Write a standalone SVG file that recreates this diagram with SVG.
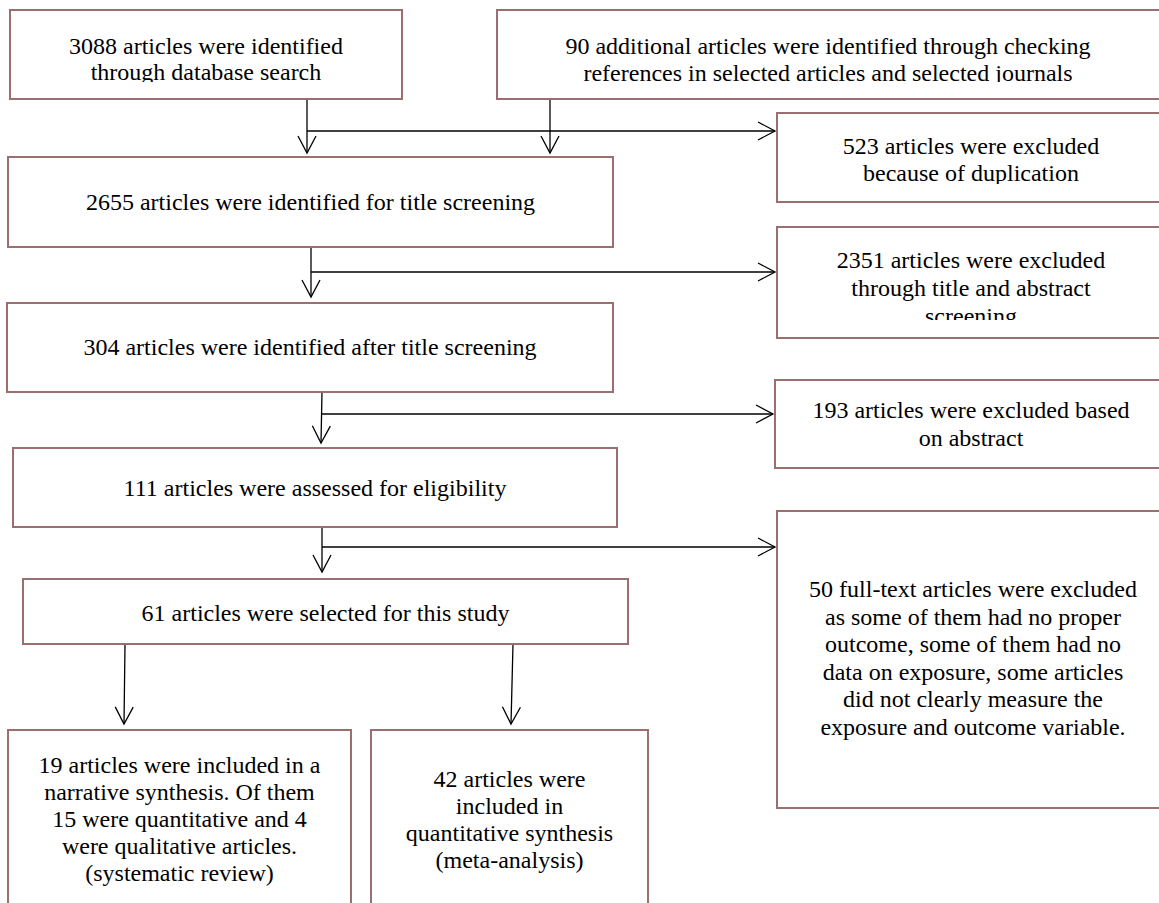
<svg xmlns="http://www.w3.org/2000/svg" width="1159" height="903" viewBox="0 0 1159 903">
<style>
.box{fill:#fff;stroke:#9b6f6f;stroke-width:2}
.t{font-family:"Liberation Serif","Times New Roman",serif;font-size:24px;fill:#000;text-anchor:middle}
.c{fill:none;stroke:#000;stroke-width:1.3}
</style>
<defs>
<marker id="arr" viewBox="-19 -11 21 22" refX="0" refY="0" markerWidth="21" markerHeight="22" orient="auto" markerUnits="userSpaceOnUse">
<path d="M-17,-9 L0,0 L-17,9" fill="none" stroke="#000" stroke-width="1.3"/>
</marker>
<clipPath id="clipTop"><rect x="0" y="0" width="1159" height="82"/></clipPath>
<clipPath id="clip523"><rect x="0" y="100" width="1159" height="84"/></clipPath>
<clipPath id="clip2351"><rect x="0" y="220" width="1159" height="100"/></clipPath>
<clipPath id="clip193"><rect x="0" y="370" width="1159" height="78"/></clipPath>
</defs>
<rect width="1159" height="903" fill="#fff"/>

<g id="connectors">
<path class="c" d="M307,99 V153" marker-end="url(#arr)"/>
<path class="c" d="M550,99 V153" marker-end="url(#arr)"/>
<path class="c" d="M307,131 H775" marker-end="url(#arr)"/>
<path class="c" d="M311,247 V297" marker-end="url(#arr)"/>
<path class="c" d="M311,272 H775" marker-end="url(#arr)"/>
<path class="c" d="M322,392 L321,443" marker-end="url(#arr)"/>
<path class="c" d="M321,414 H773" marker-end="url(#arr)"/>
<path class="c" d="M322,527 V572" marker-end="url(#arr)"/>
<path class="c" d="M322,547 H775" marker-end="url(#arr)"/>
<path class="c" d="M125,644 L124,724" marker-end="url(#arr)"/>
<path class="c" d="M513,644 L511,724" marker-end="url(#arr)"/>
</g>

<g id="n1">
<rect class="box" x="10" y="10" width="392" height="89"/>
<g clip-path="url(#clipTop)">
<text class="t" x="206" y="54">3088 articles were identified</text>
<text class="t" x="206" y="80">through database search</text>
</g>
</g>

<g id="n2">
<rect class="box" x="497" y="10" width="670" height="89"/>
<g clip-path="url(#clipTop)">
<text class="t" x="828" y="54">90 additional articles were identified through checking</text>
<text class="t" x="828" y="81">references in selected articles and selected journals</text>
</g>
</g>

<g id="n3">
<rect class="box" x="777" y="113" width="390" height="89"/>
<g clip-path="url(#clip523)">
<text class="t" x="971" y="154">523 articles were excluded</text>
<text class="t" x="971" y="181">because of duplication</text>
</g>
</g>

<g id="n4">
<rect class="box" x="8" y="157" width="605" height="90"/>
<text class="t" x="310.5" y="210">2655 articles were identified for title screening</text>
</g>

<g id="n5">
<rect class="box" x="777" y="227" width="390" height="111"/>
<g clip-path="url(#clip2351)">
<text class="t" x="971" y="268">2351 articles were excluded</text>
<text class="t" x="971" y="296">through title and abstract</text>
<text class="t" x="971" y="324">screening</text>
</g>
</g>

<g id="n6">
<rect class="box" x="7" y="303" width="606" height="89"/>
<text class="t" x="310" y="355">304 articles were identified after title screening</text>
</g>

<g id="n7">
<rect class="box" x="775" y="380" width="392" height="88"/>
<g clip-path="url(#clip193)">
<text class="t" x="971" y="418">193 articles were excluded based</text>
<text class="t" x="971" y="446">on abstract</text>
</g>
</g>

<g id="n8">
<rect class="box" x="13" y="448" width="604" height="79"/>
<text class="t" x="315" y="496">111 articles were assessed for eligibility</text>
</g>

<g id="n9">
<rect class="box" x="777" y="511" width="390" height="297"/>
<text class="t" x="973" y="597">50 full-text articles were excluded</text>
<text class="t" x="973" y="625">as some of them had no proper</text>
<text class="t" x="973" y="652">outcome, some of them had no</text>
<text class="t" x="973" y="680">data on exposure, some articles</text>
<text class="t" x="973" y="707">did not clearly measure the</text>
<text class="t" x="973" y="735">exposure and outcome variable.</text>
</g>

<g id="n10">
<rect class="box" x="23" y="579" width="605" height="65"/>
<text class="t" x="325.5" y="621">61 articles were selected for this study</text>
</g>

<g id="n11">
<rect class="box" x="8" y="730" width="343" height="185"/>
<text class="t" x="179.5" y="773">19 articles were included in a</text>
<text class="t" x="179.5" y="800">narrative synthesis. Of them</text>
<text class="t" x="179.5" y="827">15 were quantitative and 4</text>
<text class="t" x="179.5" y="854">were qualitative articles.</text>
<text class="t" x="179.5" y="881">(systematic review)</text>
</g>

<g id="n12">
<rect class="box" x="371" y="730" width="277" height="185"/>
<text class="t" x="509.5" y="787">42 articles were</text>
<text class="t" x="509.5" y="814">included in</text>
<text class="t" x="509.5" y="841">quantitative synthesis</text>
<text class="t" x="509.5" y="868">(meta-analysis)</text>
</g>
</svg>
